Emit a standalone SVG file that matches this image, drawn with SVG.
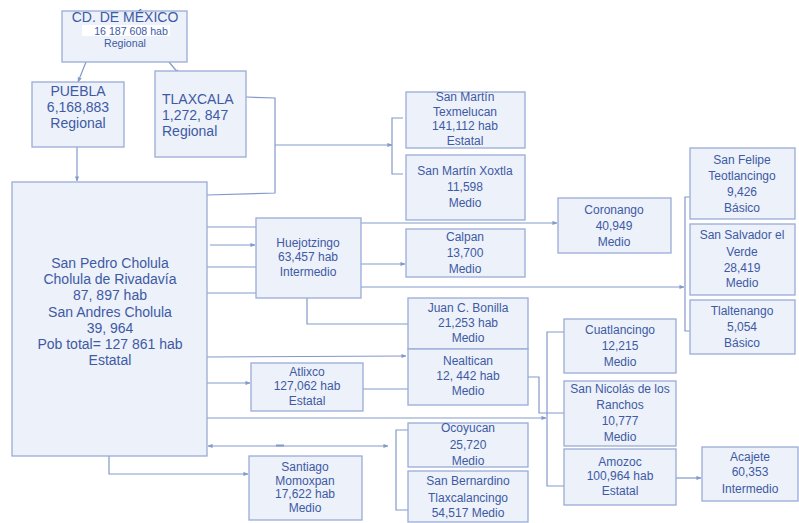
<svg xmlns="http://www.w3.org/2000/svg" width="799" height="523" viewBox="0 0 799 523">
<style>
.box{fill:#edf1f9;stroke:#9aabd6;stroke-width:1.3}
.t{font-family:"Liberation Sans",Arial,sans-serif;fill:#3d5aa5;text-anchor:middle}
.l{text-anchor:start}
.s10{font-size:10.6px}
.s12{font-size:12px}
.s14{font-size:14px}
.c{fill:none;stroke:#8399cb;stroke-width:1.2}
.a{marker-end:url(#ah)}
</style>
<defs>
<marker id="ah" viewBox="0 0 6 6" refX="5.5" refY="3" markerWidth="5" markerHeight="5" markerUnits="userSpaceOnUse" orient="auto-start-reverse">
<path d="M0,0.5 L6,3 L0,5.5 z" fill="#8399cb"/>
</marker>
</defs>
<rect width="799" height="523" fill="#ffffff"/>
<g id="connectors">
<line class="c a" x1="86" y1="62" x2="78" y2="82"/>
<line class="c a" x1="169" y1="62" x2="179" y2="74"/>
<line class="c a" x1="77" y1="147" x2="77" y2="181"/>
<polyline class="c" points="246,97 275,98 275,193 207,195"/>
<line class="c a" x1="275" y1="145" x2="392" y2="145"/>
<polyline class="c" points="403,118 392,118 392,174 403,174"/>
<line class="c" x1="207" y1="227" x2="256" y2="227"/>
<line class="c a" x1="210" y1="245" x2="255" y2="245"/>
<line class="c" x1="207" y1="267" x2="256" y2="267"/>
<line class="c" x1="204" y1="293" x2="256" y2="293"/>
<line class="c a" x1="361" y1="223" x2="557" y2="223"/>
<line class="c a" x1="361" y1="264" x2="405" y2="264"/>
<line class="c a" x1="361" y1="287" x2="684" y2="287"/>
<polyline class="c" points="693,197 685,197 685,331 693,331"/>
<polyline class="c" points="307,298 307,324 408,324"/>
<line class="c a" x1="207" y1="357" x2="406" y2="356"/>
<line class="c a" x1="207" y1="383" x2="250" y2="383"/>
<line class="c" x1="361" y1="389" x2="408" y2="389"/>
<polyline class="c" points="528,377 539,377 539,413 564,413"/>
<line class="c a" x1="207" y1="418" x2="546" y2="418"/>
<polyline class="c" points="570,332 547,332 547,486 570,486"/>
<line class="c a" x1="208" y1="446" x2="388" y2="446" marker-start="url(#ah)"/>
<line x1="276" y1="445.5" x2="284" y2="445.5" stroke="#8399cb" stroke-width="2"/>
<polyline class="c" points="408,430 396,430 396,510 408,510"/>
<polyline class="c a" points="109,456 109,474 248,474"/>
<line class="c a" x1="676" y1="478" x2="701" y2="478"/>
</g>
<g id="cdmx">
<rect class="box" x="62" y="11" width="125" height="51"/>
<rect x="82" y="25" width="88" height="11" fill="#ffffff"/>
<text class="t s14" x="125" y="22">CD. DE MÉXICO</text>
<text class="t s10" x="131" y="34.5">16 187 608 hab</text>
<text class="t s10" x="125" y="47">Regional</text>
</g>
<g id="puebla">
<rect class="box" x="32" y="82" width="92" height="65"/>
<text class="t s14" x="78" y="96">PUEBLA</text>
<text class="t s14" x="78" y="112">6,168,883</text>
<text class="t s14" x="78" y="128">Regional</text>
</g>
<g id="tlaxcala">
<rect class="box" x="155" y="71" width="91" height="86"/>
<text class="t s14 l" x="162" y="104">TLAXCALA</text>
<text class="t s14 l" x="162" y="120">1,272, 847</text>
<text class="t s14 l" x="162" y="136">Regional</text>
</g>
<g id="cholula">
<rect class="box" x="12" y="182" width="195" height="274"/>
<text class="t s14" x="110" y="268">San Pedro Cholula</text>
<text class="t s14" x="110" y="284">Cholula de Rivadavía</text>
<text class="t s14" x="110" y="300">87, 897 hab</text>
<text class="t s14" x="110" y="317">San Andres Cholula</text>
<text class="t s14" x="110" y="333">39, 964</text>
<text class="t s14" x="110" y="349">Pob total= 127 861 hab</text>
<text class="t s14" x="110" y="365">Estatal</text>
</g>
<g id="texmelucan">
<rect class="box" x="406" y="92" width="119" height="56"/>
<text class="t s12" x="465" y="101">San Martín</text>
<text class="t s12" x="465" y="116">Texmelucan</text>
<text class="t s12" x="465" y="130">141,112 hab</text>
<text class="t s12" x="465" y="145">Estatal</text>
</g>
<g id="xoxtla">
<rect class="box" x="406" y="155" width="119" height="65"/>
<text class="t s12" x="465" y="175">San Martín Xoxtla</text>
<text class="t s12" x="465" y="191">11,598</text>
<text class="t s12" x="465" y="207">Medio</text>
</g>
<g id="calpan">
<rect class="box" x="406" y="229" width="119" height="48"/>
<text class="t s12" x="465" y="241">Calpan</text>
<text class="t s12" x="465" y="257">13,700</text>
<text class="t s12" x="465" y="273">Medio</text>
</g>
<g id="coronango">
<rect class="box" x="558" y="198" width="113" height="55"/>
<text class="t s12" x="614" y="214">Coronango</text>
<text class="t s12" x="614" y="230">40,949</text>
<text class="t s12" x="614" y="246">Medio</text>
</g>
<g id="teotlancingo">
<rect class="box" x="690" y="148" width="105" height="71"/>
<text class="t s12" x="742" y="164">San Felipe</text>
<text class="t s12" x="742" y="180">Teotlancingo</text>
<text class="t s12" x="742" y="196">9,426</text>
<text class="t s12" x="742" y="212">Básico</text>
</g>
<g id="salvador">
<rect class="box" x="690" y="224" width="105" height="71"/>
<text class="t s12" x="742" y="239">San Salvador el</text>
<text class="t s12" x="742" y="256">Verde</text>
<text class="t s12" x="742" y="272">28,419</text>
<text class="t s12" x="742" y="287">Medio</text>
</g>
<g id="tlaltenango">
<rect class="box" x="690" y="300" width="105" height="54"/>
<text class="t s12" x="742" y="315">Tlaltenango</text>
<text class="t s12" x="742" y="331">5,054</text>
<text class="t s12" x="742" y="347">Básico</text>
</g>
<g id="huejotzingo">
<rect class="box" x="256" y="218" width="105" height="80"/>
<text class="t s12" x="308" y="247">Huejotzingo</text>
<text class="t s12" x="308" y="261">63,457 hab</text>
<text class="t s12" x="308" y="276">Intermedio</text>
</g>
<g id="atlixco">
<rect class="box" x="251" y="363" width="112" height="48"/>
<text class="t s12" x="307" y="376">Atlixco</text>
<text class="t s12" x="307" y="390">127,062 hab</text>
<text class="t s12" x="307" y="405">Estatal</text>
</g>
<g id="bonilla">
<rect class="box" x="408" y="298" width="120" height="51"/>
<text class="t s12" x="468" y="312">Juan C. Bonilla</text>
<text class="t s12" x="468" y="327">21,253 hab</text>
<text class="t s12" x="468" y="342">Medio</text>
</g>
<g id="nealtican">
<rect class="box" x="408" y="349" width="120" height="56"/>
<text class="t s12" x="468" y="365">Nealtican</text>
<text class="t s12" x="468" y="380">12, 442 hab</text>
<text class="t s12" x="468" y="395">Medio</text>
</g>
<g id="ocoyucan">
<rect class="box" x="408" y="423" width="120" height="44"/>
<text class="t s12" x="468" y="432">Ocoyucan</text>
<text class="t s12" x="468" y="449">25,720</text>
<text class="t s12" x="468" y="465">Medio</text>
</g>
<g id="sanbernardino">
<rect class="box" x="408" y="471" width="120" height="51"/>
<text class="t s12" x="468" y="485">San Bernardino</text>
<text class="t s12" x="468" y="502">Tlaxcalancingo</text>
<text class="t s12" x="468" y="517">54,517 Medio</text>
</g>
<g id="momoxpan">
<rect class="box" x="249" y="456" width="113" height="64"/>
<text class="t s12" x="305" y="471">Santiago</text>
<text class="t s12" x="305" y="485">Momoxpan</text>
<text class="t s12" x="305" y="498">17,622 hab</text>
<text class="t s12" x="305" y="512">Medio</text>
</g>
<g id="cuatlancingo">
<rect class="box" x="564" y="319" width="112" height="54"/>
<text class="t s12" x="620" y="334">Cuatlancingo</text>
<text class="t s12" x="620" y="350">12,215</text>
<text class="t s12" x="620" y="366">Medio</text>
</g>
<g id="sannicolas">
<rect class="box" x="564" y="381" width="112" height="65"/>
<text class="t s12" x="620" y="393">San Nicolás de los</text>
<text class="t s12" x="620" y="409">Ranchos</text>
<text class="t s12" x="620" y="425">10,777</text>
<text class="t s12" x="620" y="441">Medio</text>
</g>
<g id="amozoc">
<rect class="box" x="564" y="449" width="112" height="56"/>
<text class="t s12" x="620" y="466">Amozoc</text>
<text class="t s12" x="620" y="480">100,964 hab</text>
<text class="t s12" x="620" y="495">Estatal</text>
</g>
<g id="acajete">
<rect class="box" x="702" y="447" width="96" height="54"/>
<text class="t s12" x="750" y="461">Acajete</text>
<text class="t s12" x="750" y="476">60,353</text>
<text class="t s12" x="750" y="493">Intermedio</text>
</g>
</svg>
